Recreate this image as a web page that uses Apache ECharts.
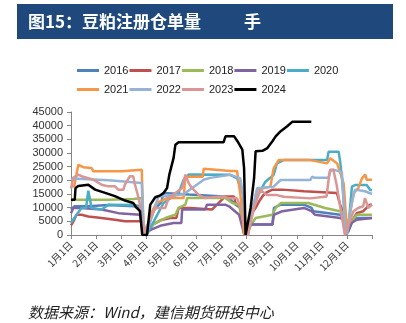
<!DOCTYPE html>
<html><head><meta charset="utf-8">
<script src="https://cdn.jsdelivr.net/npm/echarts@6/dist/echarts.min.js"></script>
<style>html,body{margin:0;padding:0;background:#fff}#c{width:406px;height:323px}</style>
</head><body><div id="c"></div>
<script>
// x = months since 1 Jan (0..12), y = 注册仓单量 (手)
const monthLabels = ['1月1日','2月1日','3月1日','4月1日','5月1日','6月1日','7月1日','8月1日','9月1日','10月1日','11月1日','12月1日'];
const yearNames = ['2016','2017','2018','2019','2020','2021','2022','2023','2024'];
const yearColors = ['#4F81BD','#C0504D','#9BBB59','#8064A2','#4BACC6','#F79646','#95B3D7','#D99694','#000000'];

const s2016 = [[0,9300],[0.13,10500],[0.69,10500],[1.5,11000],[2.5,10500],[2.75,10000],[2.88,500],[2.95,0],[3.1,4000],[3.3,9000],[3.6,12000],[3.69,15400],[4.7,14800],[6.08,14100],[6.3,13500],[6.56,11100],[6.75,10000],[6.9,800],[7.0,0],[7.1,3800],[8.03,3800],[8.09,9900],[8.36,11100],[9.29,11100],[9.3,10500],[9.59,9900],[9.66,8700],[10.73,7400],[10.85,6500],[10.97,300],[11.05,1500],[11.2,5500],[11.39,6200],[12,6200]];
const s2017 = [[0,3500],[0.1,5000],[0.22,7400],[0.42,7400],[0.69,6800],[1.22,6200],[1.75,5600],[2.15,5000],[2.8,5000],[2.9,300],[3.0,0],[3.2,3500],[3.6,5500],[3.96,6200],[4.2,6200],[4.29,9900],[4.76,9900],[4.82,9300],[5.62,9300],[5.82,11100],[6.08,13500],[6.16,14100],[6.5,14100],[6.56,11700],[6.76,9900],[6.9,600],[7.0,0],[7.16,7400],[7.36,9900],[7.5,12300],[7.63,14100],[7.76,15400],[8.03,16600],[8.43,16600],[8.5,16000],[9.29,16000],[9.33,15400],[10.6,15400],[10.73,11100],[10.79,9900],[10.95,500],[11.0,0],[11.2,5000],[11.39,8000],[11.65,8700],[11.92,11100],[12,11100]];
const s2018 = [[0,12500],[0.09,12900],[1.5,12900],[2.5,13200],[2.82,13500],[2.9,500],[3.0,0],[3.3,4000],[3.76,6200],[4.16,7400],[4.29,9900],[4.56,11100],[4.63,13500],[6.15,13500],[6.43,11700],[6.7,11000],[6.92,500],[7.0,0],[7.2,4000],[7.36,6200],[8.03,7400],[8.16,9900],[8.36,11700],[9.46,11700],[9.53,11100],[10.13,9900],[10.73,8700],[10.9,8000],[10.97,300],[11.05,1500],[11.2,5000],[11.39,7400],[12,7400]];
const s2019 = [[0,8000],[0.09,9900],[0.42,9900],[1.22,9300],[1.89,8000],[2.75,7400],[2.88,400],[2.95,0],[3.2,2000],[3.6,3500],[4.09,4400],[4.4,4400],[4.43,9300],[5.35,9300],[5.42,11100],[6.15,11100],[6.3,10500],[6.7,7400],[6.9,500],[7.0,0],[7.1,3800],[8.03,3800],[8.09,7400],[8.43,8700],[9.29,9900],[9.59,8700],[9.73,7400],[10.73,6200],[10.9,5500],[10.97,300],[11.05,1200],[11.2,4500],[11.39,5600],[12,6200]];
const s2020 = [[0,4400],[0.22,7400],[0.42,9900],[0.6,9900],[0.69,16200],[0.75,16200],[0.82,9900],[1.22,9300],[1.49,11100],[2.5,11000],[2.8,10500],[2.9,500],[3.0,0],[3.3,5000],[3.69,11700],[4.29,15400],[4.49,20200],[4.69,22100],[6.35,22000],[6.62,20700],[6.85,15000],[6.95,500],[7.05,0],[7.3,12000],[7.75,19500],[8.08,22000],[8.21,26200],[8.48,27400],[10.21,27400],[10.27,30500],[10.67,30500],[10.74,26200],[10.81,20100],[10.97,500],[11.05,2000],[11.2,17700],[11.34,18300],[11.79,18300],[11.93,16500],[12,16500]];
const s2021 = [[0,17800],[0.13,17800],[0.29,25700],[0.49,24800],[0.82,24500],[0.89,23300],[2.02,23300],[2.09,23900],[2.82,23900],[2.9,1000],[2.97,0],[3.2,8000],[3.4,11700],[3.83,13500],[4.49,13500],[4.56,21300],[5.25,21300],[5.29,24200],[6.35,23400],[6.62,23400],[6.75,15000],[6.9,500],[7.0,0],[7.42,16500],[7.95,17700],[8.08,24400],[8.28,27400],[9.54,27400],[10.21,26200],[10.34,28100],[10.61,26200],[10.87,18900],[11.0,1800],[11.27,15300],[11.45,17100],[11.6,20700],[11.73,22100],[11.79,20200],[12,20200]];
const s2022 = [[0,20200],[0.1,20700],[1.5,20000],[2.82,19000],[2.9,800],[3.0,0],[3.2,6000],[3.49,14100],[4.29,14600],[4.5,15000],[5.29,20200],[5.55,20900],[6.35,22000],[6.75,20700],[6.9,12000],[6.97,500],[7.05,0],[7.3,12000],[7.42,17100],[8.08,17700],[8.35,20100],[9.54,20100],[9.61,21300],[9.73,20900],[10.26,20900],[10.33,23300],[10.46,23900],[10.8,23000],[10.92,3000],[11.0,500],[11.2,12000],[11.32,16600],[11.72,16000],[12,15000]];
const s2023 = [[0,17000],[0.09,20900],[0.29,22100],[0.42,21500],[0.89,20200],[1.22,18400],[1.49,17800],[1.75,17800],[1.89,16600],[2.09,16600],[2.15,18400],[2.35,21500],[2.48,21500],[2.55,18400],[2.68,14100],[2.75,11100],[2.88,500],[2.95,0],[3.36,9900],[3.76,9900],[3.89,13500],[4.16,15400],[4.43,17200],[4.56,22100],[4.69,19000],[4.82,17200],[5.09,14700],[5.35,13500],[6.03,14100],[6.35,13400],[6.62,13400],[6.85,8000],[6.95,300],[7.05,0],[7.3,10000],[7.55,16500],[7.81,14600],[8.21,14600],[8.48,14000],[9.54,13400],[10.19,14100],[10.26,19600],[10.33,23900],[10.46,23900],[10.59,18400],[10.92,0],[11.26,8700],[11.45,9900],[11.65,10500],[11.72,13500],[11.85,9900],[12,11100]];
const s2024 = [[0,12900],[0.15,12900],[0.18,17200],[0.29,17900],[0.69,18400],[0.96,16600],[1.36,15400],[1.75,14200],[2.15,12600],[2.48,11700],[2.62,9900],[2.75,8700],[2.84,0],[3.03,0],[3.16,11100],[3.36,13800],[3.56,14500],[3.69,15400],[3.83,17200],[3.92,22100],[4.09,28200],[4.16,33000],[4.29,33900],[6.08,33900],[6.16,36100],[6.5,36100],[6.63,34400],[6.83,31200],[6.9,24500],[6.96,0],[7.16,9900],[7.3,20900],[7.36,30600],[7.63,30800],[7.83,31800],[8.03,34300],[8.16,36100],[8.36,38000],[8.62,39800],[8.82,41400],[9.58,41400]];
const allSeries = [s2016,s2017,s2018,s2019,s2020,s2021,s2022,s2023,s2024];

const chart = echarts.init(document.getElementById('c'), null, {renderer:'canvas'});
const legendText = {fontFamily:'Liberation Sans', fontSize:11, color:'#222'};
const legendBase = {icon:'rect', itemWidth:22, itemHeight:3, itemGap:1, textStyle:legendText, padding:0};
chart.setOption({
  animation:false,
  backgroundColor:'#fff',
  color: yearColors,
  graphic:[
    {type:'rect', left:17, top:4, shape:{width:376, height:35}, style:{fill:'#1F497D'}},
    {type:'text', left:28, top:13, style:{text:'图15：豆粕注册仓单量', fill:'#fff', font:'bold 17px "Noto Sans CJK SC"'}},
    {type:'text', left:244, top:13, style:{text:'手', fill:'#fff', font:'bold 17px "Noto Sans CJK SC"'}},
    {type:'text', left:28, top:305, style:{text:'数据来源：Wind，建信期货研投中心', fill:'#222', font:'italic 15px "Noto Sans CJK SC"'}}
  ],
  legend:[
    Object.assign({left:77, top:65, data: yearNames.slice(0,5)}, legendBase),
    Object.assign({left:77, top:84, data: yearNames.slice(5)}, legendBase)
  ],
  grid:{left:71, right:34, top:112, bottom:88, containLabel:false},
  xAxis:{type:'value', min:0, max:12, interval:1,
    axisLine:{lineStyle:{color:'#868686'}},
    axisTick:{length:4, lineStyle:{color:'#868686'}},
    splitLine:{show:false},
    axisLabel:{rotate:45, margin:8, fontFamily:'Noto Sans CJK SC', fontSize:10, color:'#333',
      formatter:v => (v>=0 && v<12) ? monthLabels[v] : ''}
  },
  yAxis:{type:'value', min:0, max:45000, interval:5000,
    axisLine:{show:true, lineStyle:{color:'#868686'}},
    axisTick:{show:true, length:4, lineStyle:{color:'#868686'}},
    splitLine:{show:false},
    axisLabel:{margin:8, fontFamily:'Liberation Sans', fontSize:11, color:'#333', formatter:v => String(v)}
  },
  series: allSeries.map((d,i)=>({
    name: yearNames[i], type:'line', data:d, symbol:'none', showSymbol:false,
    lineStyle:{width: 2.5, color: yearColors[i]}, itemStyle:{color:yearColors[i]}, z: 2+i
  }))
});
</script></body></html>
